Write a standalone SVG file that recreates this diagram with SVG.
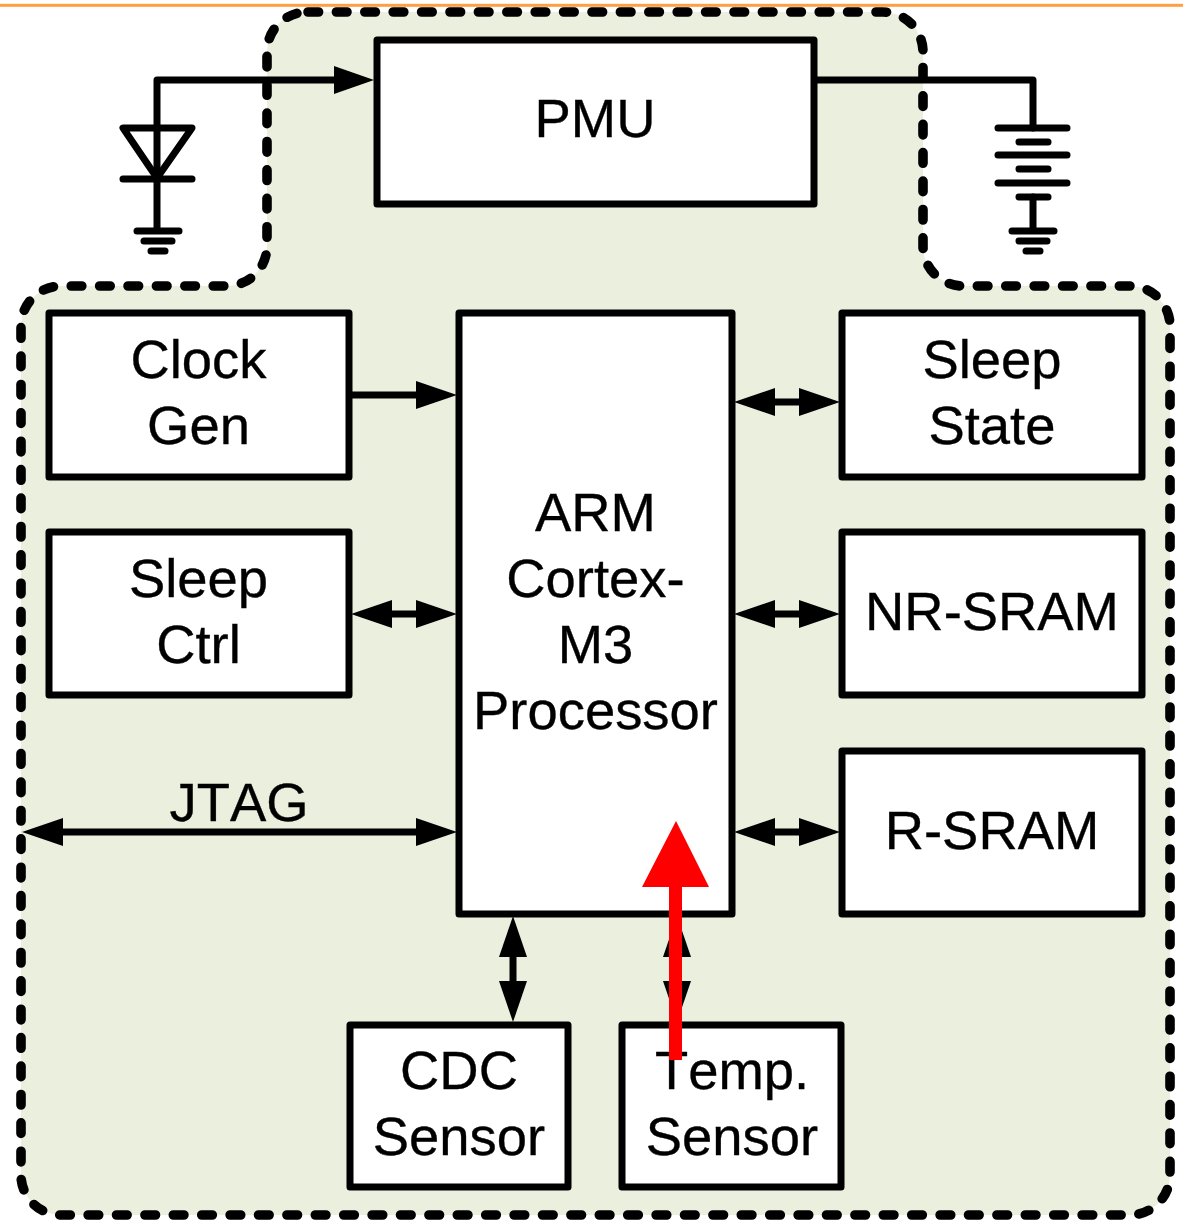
<svg xmlns="http://www.w3.org/2000/svg" width="1183" height="1220" viewBox="0 0 1183 1220">
<style>
.box{fill:#fff;stroke:#000;stroke-width:7;stroke-linejoin:round}
.w{fill:none;stroke:#000;stroke-width:7;stroke-linecap:round;stroke-linejoin:round}
.h{fill:#000}
text{font-family:"Liberation Sans",Arial,sans-serif;font-size:54.4px;fill:#000;stroke:#000;stroke-width:.35;text-anchor:middle;font-kerning:none}
</style>
<rect width="1183" height="1220" fill="#fff"/>
<rect x="0" y="3.8" width="1183" height="3" fill="#ff9f40"/>
<g id="boundary">
<path d="M307 12H883A40 40 0 0 1 923 52V246A40 40 0 0 0 963 286H1130A40 40 0 0 1 1170 326V1175A40 40 0 0 1 1130 1215H61A40 40 0 0 1 21 1175V326A40 40 0 0 1 61 286H227A40 40 0 0 0 267 246V52A40 40 0 0 1 307 12Z" fill="#ebefde" stroke="#000" stroke-width="9.6" stroke-linecap="round" stroke-dasharray="10.6 17.8" stroke-dashoffset="-1"/>
</g>
<g id="connectors">
<path class="w" d="M157 178V80H334"/><path class="h" d="M334 66L374 80L334 94Z"/>
<path class="w" d="M817 80H1033V128"/>
<path class="w" d="M352 395H418"/><path class="h" d="M416 381L457 395L416 409Z"/>
<path class="w" d="M775 402H800"/><path class="h" d="M775 388L734 402L775 416Z"/><path class="h" d="M799 388L840 402L799 416Z"/>
<path class="w" d="M392 614H418"/><path class="h" d="M392 600L351 614L392 628Z"/><path class="h" d="M416 600L457 614L416 628Z"/>
<path class="w" d="M775 614H800"/><path class="h" d="M775 600L734 614L775 628Z"/><path class="h" d="M799 600L840 614L799 628Z"/>
<path class="w" d="M62 832H418"/><path class="h" d="M63 818L22 832L63 846Z"/><path class="h" d="M416 818L457 832L416 846Z"/>
<path class="w" d="M775 832H800"/><path class="h" d="M775 818L734 832L775 846Z"/><path class="h" d="M799 818L840 832L799 846Z"/>
<path class="w" d="M513 956V985"/><path class="h" d="M499 957L513 916L527 957Z"/><path class="h" d="M499 981L513 1022L527 981Z"/>
<path class="w" d="M677 956V985"/><path class="h" d="M663 957L677 916L691 957Z"/><path class="h" d="M663 981L677 1022L691 981Z"/>
</g>
<g id="diode" class="w">
<path d="M123 128H192L157 178Z"/><path d="M123 179H192"/><path d="M157 179V230"/>
<path d="M137 231H179"/><path d="M144 241H172"/><path d="M151 251H165"/>
</g>
<g id="battery" class="w">
<path d="M998 128H1067"/><path d="M1019 142H1048"/><path d="M998 155H1067"/><path d="M1019 169H1048"/><path d="M998 183H1067"/><path d="M1019 197H1048"/>
<path d="M1033 197V230"/><path d="M1012 231H1054"/><path d="M1019 241H1047"/><path d="M1026 251H1040"/>
</g>
<g id="pmu"><rect class="box" x="377" y="40" width="437" height="164"/><text x="595" y="136.500">PMU</text></g>
<g id="clock-gen"><rect class="box" x="49" y="313" width="300" height="164"/><text x="198.500" y="378">Clock</text><text x="198.500" y="444">Gen</text></g>
<g id="sleep-ctrl"><rect class="box" x="49" y="532" width="300" height="163"/><text x="198.500" y="597">Sleep</text><text x="198.500" y="663">Ctrl</text></g>
<g id="arm"><rect class="box" x="459" y="313" width="273" height="601"/><text x="595.500" y="531">ARM</text><text x="595.500" y="597">Cortex-</text><text x="595.500" y="663">M3</text><text x="595.500" y="728.500">Processor</text></g>
<g id="sleep-state"><rect class="box" x="842" y="313" width="300" height="164"/><text x="992" y="378">Sleep</text><text x="992" y="444">State</text></g>
<g id="nr-sram"><rect class="box" x="842" y="532" width="300" height="163"/><text x="992" y="630">NR-SRAM</text></g>
<g id="r-sram"><rect class="box" x="842" y="751" width="300" height="163"/><text x="992" y="849">R-SRAM</text></g>
<g id="cdc"><rect class="box" x="350" y="1025" width="218" height="162"/><text x="459" y="1089">CDC</text><text x="459" y="1155">Sensor</text></g>
<g id="temp"><rect class="box" x="622" y="1025" width="219" height="162"/><text x="732" y="1089">Temp.</text><text x="732" y="1155">Sensor</text></g>
<text x="239" y="821">JTAG</text>
<g id="red-arrow"><path d="M669 1060V887H642L676 821L709 887H682V1060Z" fill="#f00"/></g>
</svg>
